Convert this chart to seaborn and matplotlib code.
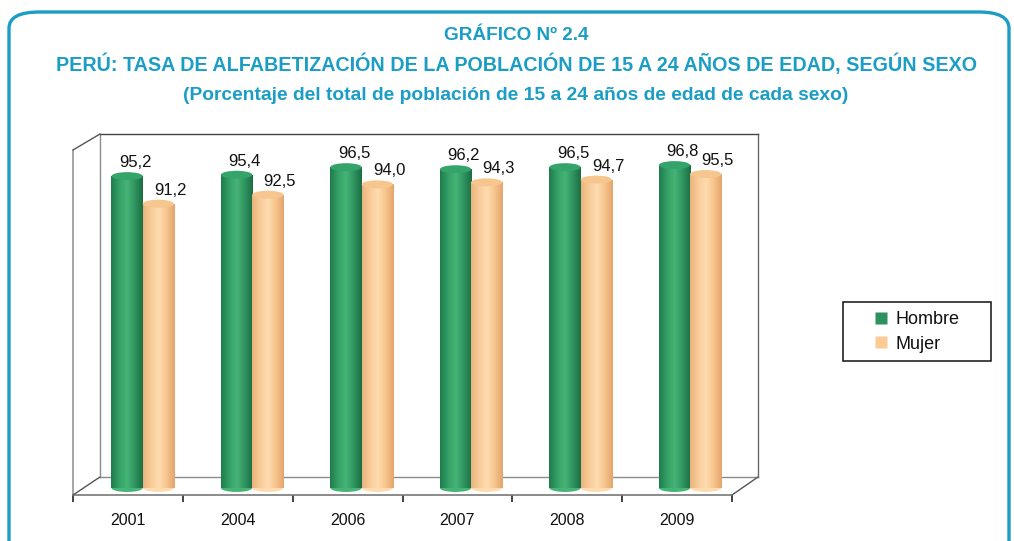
import numpy as np
import pandas as pd
import matplotlib
matplotlib.use('Agg')
import matplotlib.pyplot as plt
import seaborn as sns
from matplotlib.patches import Ellipse, FancyBboxPatch, Rectangle
from matplotlib.lines import Line2D
from matplotlib.colors import LinearSegmentedColormap

sns.set_theme(style='white')
plt.rcParams['font.family'] = ['Liberation Sans', 'DejaVu Sans']

# data
years = ['2001', '2004', '2006', '2007', '2008', '2009']
hombre = [95.2, 95.4, 96.5, 96.2, 96.5, 96.8]
mujer = [91.2, 92.5, 94.0, 94.3, 94.7, 95.5]
series = ['Hombre', 'Mujer']

df = pd.DataFrame({
    'Año': years * 2,
    'Tasa': hombre + mujer,
    'Sexo': ['Hombre'] * len(years) + ['Mujer'] * len(years),
})

teal = '#1b9dc6'
green = '#2e9160'
peach = '#fccb95'

W, H = 1014, 541
fig = plt.figure(figsize=(W / 100, H / 100), dpi=100)


def box(x0, y0, x1, y1):
    # pixel box (top-left origin) -> figure fraction rect
    return [x0 / W, 1 - y1 / H, (x1 - x0) / W, (y1 - y0) / H]


def fx(x):
    return x / W


def fy(y):
    return 1 - y / H


# rounded frame around the whole graphic
frame = FancyBboxPatch((fx(9), fy(600)), fx(1000), fy(12) - fy(600),
                       boxstyle='round,pad=0,rounding_size=0.03',
                       transform=fig.transFigure, fill=False,
                       edgecolor=teal, linewidth=2.4, clip_on=False)
fig.patches.append(frame)

# titles
fig.text(fx(516), fy(35), 'GRÁFICO Nº 2.4', ha='center', va='center',
         color=teal, fontsize=13.7, fontweight='bold')
fig.text(fx(516), fy(64), 'PERÚ: TASA DE ALFABETIZACIÓN DE LA POBLACIÓN DE 15 A 24 AÑOS DE EDAD, SEGÚN SEXO',
         ha='center', va='center', color=teal, fontsize=14.2, fontweight='bold')
fig.text(fx(516), fy(95), '(Porcentaje del total de población de 15 a 24 años de edad de cada sexo)',
         ha='center', va='center', color=teal, fontsize=13.9, fontweight='bold')

# back wall (3D look)
ax_wall = fig.add_axes(box(100, 134, 758, 477))
ax_wall.set_xticks([])
ax_wall.set_yticks([])
ax_wall.set_facecolor('white')
for s in ax_wall.spines.values():
    s.set_color('#8a8a8a')
    s.set_linewidth(1.0)
ax_wall.spines['top'].set_color('#444444')
ax_wall.spines['right'].set_color('#666666')

# front axis (year labels)
ax_front = fig.add_axes(box(73, 150, 732, 495))
ax_front.patch.set_alpha(0)
ax_front.set_xlim(-0.5, 5.5)
ax_front.set_ylim(0, 1)
ax_front.set_xticks(np.arange(-0.5, 6.0, 1.0))
ax_front.set_xticklabels([])
ax_front.set_xticks(np.arange(len(years)), minor=True)
ax_front.set_xticklabels(years, minor=True, fontsize=11.5, color='#111111')
ax_front.tick_params(axis='x', which='major', direction='out', length=5, width=1.2, color='#222222', bottom=True)
ax_front.tick_params(axis='x', which='minor', length=0, pad=13)
ax_front.set_yticks([])
for side in ['top', 'right']:
    ax_front.spines[side].set_visible(False)
ax_front.spines['bottom'].set_color('#777777')
ax_front.spines['bottom'].set_linewidth(1.2)
ax_front.spines['left'].set_color('#9a9a9a')
ax_front.spines['left'].set_linestyle((0, (1, 1)))

# depth diagonals
for (x0, y0, x1, y1) in [(73, 150, 100, 134), (73, 495, 100, 477), (732, 495, 758, 477)]:
    fig.add_artist(Line2D([fx(x0), fx(x1)], [fy(y0), fy(y1)], transform=fig.transFigure,
                          color='#555555', linewidth=1.0))

# bars
ax = fig.add_axes(box(100, 143, 758, 488))
ax.patch.set_alpha(0)
sns.barplot(data=df, x='Año', y='Tasa', hue='Sexo', palette=[green, peach],
            width=0.57, saturation=1, legend=False, ax=ax)

cmaps = [
    LinearSegmentedColormap.from_list('g', ['#1f7c4c', '#34a066', '#45b476', '#2f9460', '#1b6e43']),
    LinearSegmentedColormap.from_list('p', ['#eab47e', '#f8cc98', '#fedcb0', '#f6c48c', '#e3a66c']),
]
caps = ['#35a46a', '#f7c68f']
vals = [hombre, mujer]
label_dx = [6, 8.5]
cap_h = 1.15

for k, cont in enumerate(ax.containers):
    for i, bar in enumerate(cont):
        x0 = bar.get_x()
        w = bar.get_width()
        v = bar.get_height()
        bar.set_alpha(0)
        grad = np.linspace(0, 1, 64).reshape(1, -1)
        im = ax.imshow(grad, cmap=cmaps[k], aspect='auto', extent=(x0, x0 + w, 50, v), zorder=2)
        im.set_clip_path(bar)
        # bottom rounding
        eb = Ellipse((x0 + w / 2, 50), w, cap_h, facecolor=cmaps[k](0.5), edgecolor='none',
                     zorder=1.9, clip_on=False)
        ax.add_patch(eb)
        # top cap
        et = Ellipse((x0 + w / 2, v), w, cap_h, facecolor=caps[k], edgecolor='none', zorder=3)
        ax.add_patch(et)
        ax.annotate(f'{vals[k][i]:.1f}'.replace('.', ','), (x0 + w / 2, v),
                    xytext=(label_dx[k], 6.5), textcoords='offset points', ha='center', va='baseline',
                    fontsize=12, color='#111111')

ax.set_xlim(-0.39, 5.62)
ax.set_ylim(50, 100)
ax.set_xticks([])
ax.set_yticks([])
ax.set_xlabel('')
ax.set_ylabel('')
sns.despine(ax=ax, left=True, bottom=True)

# legend box drawn separately so the padding matches
fig.patches.append(Rectangle((fx(843), fy(361)), fx(991) - fx(843), fy(302) - fy(361),
                             transform=fig.transFigure, fill=False, edgecolor='#111111',
                             linewidth=1.1))
handles = [Line2D([], [], marker='s', linestyle='none', markersize=9,
                  markerfacecolor=c, markeredgecolor='none') for c in [green, peach]]
leg = fig.legend(handles, series, loc='center', bbox_to_anchor=(fx(916), fy(332)),
                 frameon=False, fontsize=13, handletextpad=0.3,
                 borderpad=0, labelspacing=0.4, borderaxespad=0, handlelength=1.0)
for t in leg.get_texts():
    t.set_color('#111111')

fig.savefig('out.png', dpi=100)
